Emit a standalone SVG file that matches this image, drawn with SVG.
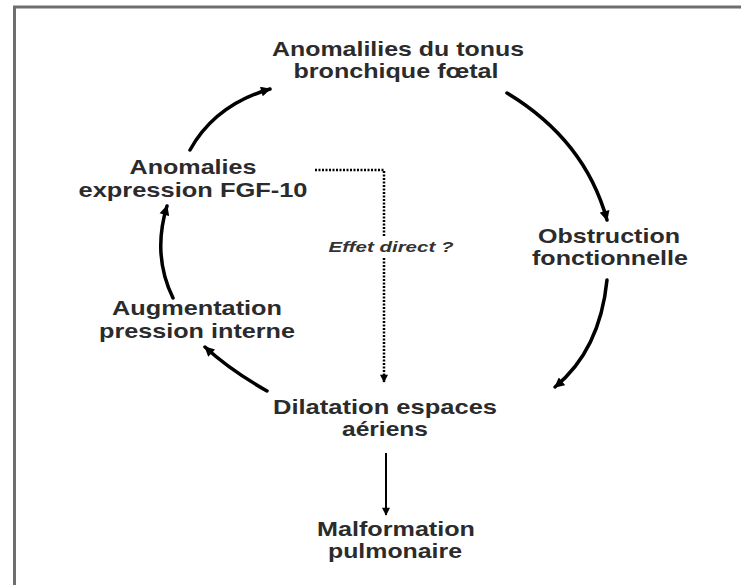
<svg xmlns="http://www.w3.org/2000/svg" width="741" height="585" viewBox="0 0 741 585">
<defs>
<style>
.t{font-family:"Liberation Sans",Arial,sans-serif;font-weight:bold;font-size:21px;fill:#2b2b2b;text-anchor:middle}
.i{font-family:"Liberation Sans",Arial,sans-serif;font-weight:bold;font-style:italic;font-size:15.5px;fill:#333;text-anchor:middle}
.arc{fill:none;stroke:#000;stroke-width:3.5;stroke-linecap:round}
.thin{fill:none;stroke:#000;stroke-width:2}
.dot{fill:none;stroke:#000;stroke-width:2.5;stroke-dasharray:2 1.5}
.frame{fill:none;stroke:#6e6e6e;stroke-width:3}
</style>
<marker id="ah" viewBox="0 0 10 10" refX="9" refY="5" markerWidth="11" markerHeight="10" markerUnits="userSpaceOnUse" orient="auto">
<path d="M0,0 L10,5 L0,10 Z" fill="#000"/>
</marker>
<marker id="ahs" viewBox="0 0 10 10" refX="9" refY="5" markerWidth="9" markerHeight="8" markerUnits="userSpaceOnUse" orient="auto">
<path d="M0,0 L10,5 L0,10 Z" fill="#000"/>
</marker>
</defs>
<rect x="0" y="0" width="741" height="585" fill="#fff"/>
<path class="frame" d="M14.5,590 L14.5,7 L745,7"/>
<g id="connectors">
<path class="arc" d="M190,150 Q215,105 270,89" marker-end="url(#ah)"/>
<path class="arc" d="M507,93 Q585,140 607,220" marker-end="url(#ah)"/>
<path class="arc" d="M607,280 Q600,350 555,387" marker-end="url(#ah)"/>
<path class="arc" d="M267,391 Q230,370 205,347" marker-end="url(#ah)"/>
<path class="arc" d="M173,298 Q152,255 167,206" marker-end="url(#ah)"/>
<path class="thin" d="M386,453 L386,515" marker-end="url(#ahs)"/>
<path class="dot" d="M315,170 L384,170 L384,236"/>
<path class="dot" d="M384,258 L384,382" marker-end="url(#ahs)"/>
</g>
<g id="n-tonus">
<text class="t" x="398" y="56" textLength="252" lengthAdjust="spacingAndGlyphs">Anomalilies du tonus</text>
<text class="t" x="396" y="78" textLength="205" lengthAdjust="spacingAndGlyphs">bronchique fœtal</text>
</g>
<g id="n-fgf">
<text class="t" x="193" y="174" textLength="127" lengthAdjust="spacingAndGlyphs">Anomalies</text>
<text class="t" x="193" y="197" textLength="229" lengthAdjust="spacingAndGlyphs">expression FGF-10</text>
</g>
<g id="n-pression">
<text class="t" x="197" y="315" textLength="170" lengthAdjust="spacingAndGlyphs">Augmentation</text>
<text class="t" x="197" y="338" textLength="196" lengthAdjust="spacingAndGlyphs">pression interne</text>
</g>
<g id="n-obstruction">
<text class="t" x="609" y="243" textLength="142" lengthAdjust="spacingAndGlyphs">Obstruction</text>
<text class="t" x="610" y="265" textLength="156" lengthAdjust="spacingAndGlyphs">fonctionnelle</text>
</g>
<g id="n-dilatation">
<text class="t" x="385" y="414" textLength="224" lengthAdjust="spacingAndGlyphs">Dilatation espaces</text>
<text class="t" x="385" y="436" textLength="86" lengthAdjust="spacingAndGlyphs">aériens</text>
</g>
<g id="n-malformation">
<text class="t" x="396" y="536" textLength="158" lengthAdjust="spacingAndGlyphs">Malformation</text>
<text class="t" x="395" y="558" textLength="134" lengthAdjust="spacingAndGlyphs">pulmonaire</text>
</g>
<g id="l-effet">
<text class="i" x="391" y="252" textLength="125" lengthAdjust="spacingAndGlyphs">Effet direct ?</text>
</g>
</svg>
